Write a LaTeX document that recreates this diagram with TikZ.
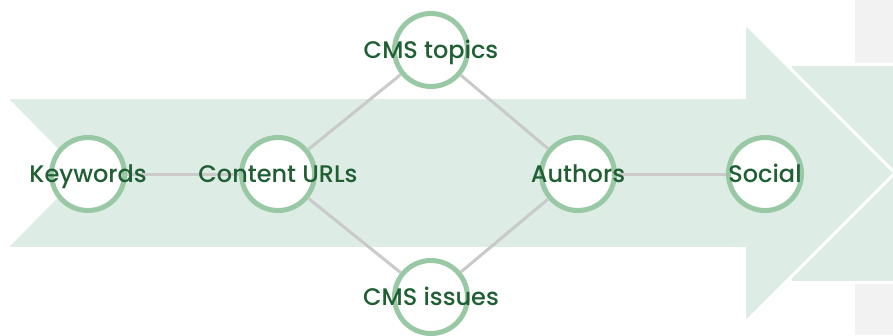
\documentclass[tikz,border=0pt]{standalone}
\usepackage{fontspec}
\setmainfont{Poppins}
\newfontfamily\tagfont{Poppins Medium}
\usetikzlibrary{positioning}

\definecolor{bandgreen}{HTML}{DDECE4}
\definecolor{ringgreen}{HTML}{99C8A4}
\definecolor{textgreen}{HTML}{1F5F33}
\definecolor{linkgray}{HTML}{CACACA}
\definecolor{boxgray}{HTML}{F2F2F2}

\tikzset{
  ring/.style={circle, draw=ringgreen, line width=5pt, fill=white, minimum size=73pt, inner sep=0pt},
  tag/.style={text=textgreen, font=\tagfont\fontsize{24}{26}\selectfont, inner sep=0pt, text height=16.5pt, text depth=0pt},
  link/.style={draw=linkgray, line width=3pt}
}

\begin{document}
\begin{tikzpicture}[x=1pt, y=-1pt, node distance=190pt]
        \useasboundingbox (0,0) rectangle (893,335);
        \fill[boxgray] (855,0) rectangle (893,335);
        \filldraw[fill=bandgreen, draw=white, line width=3pt] (790,64) rectangle (905,282);
        \filldraw[fill=bandgreen, draw=white, line width=3pt]
                (5.5,97.5) -- (744.5,97.5) -- (744.5,22.5) -- (895,173) -- (744.5,323.5) -- (744.5,248.5)
                -- (5.5,248.5) -- (80,173) -- cycle;

        \node[ring] (kw) at (88,174) {};
        \node[ring] (cu) [right of=kw] {};
        \node[ring] (au) [right of=cu, node distance=300pt] {};
        \node[ring] (so) [right of=au, node distance=187pt] {};
        \node[ring] (tp) at (431,50) {};
        \node[ring] (is) at (431,297) {};

        \draw[link] (kw) -- (cu);
        \draw[link] (cu) -- (tp);
        \draw[link] (cu) -- (is);
        \draw[link] (tp) -- (au);
        \draw[link] (is) -- (au);
        \draw[link] (au) -- (so);

        \node[tag] (kw-t) at (kw) {Keywords};
        \node[tag] (cu-t) at (cu) {Content URLs};
        \node[tag] (au-t) at (au) {Authors};
        \node[tag] (so-t) at (so) {Social};
        \node[tag] (tp-t) at (tp) {CMS topics};
        \node[tag] (is-t) at (is) {CMS issues};
        \end{tikzpicture}
\end{document}
